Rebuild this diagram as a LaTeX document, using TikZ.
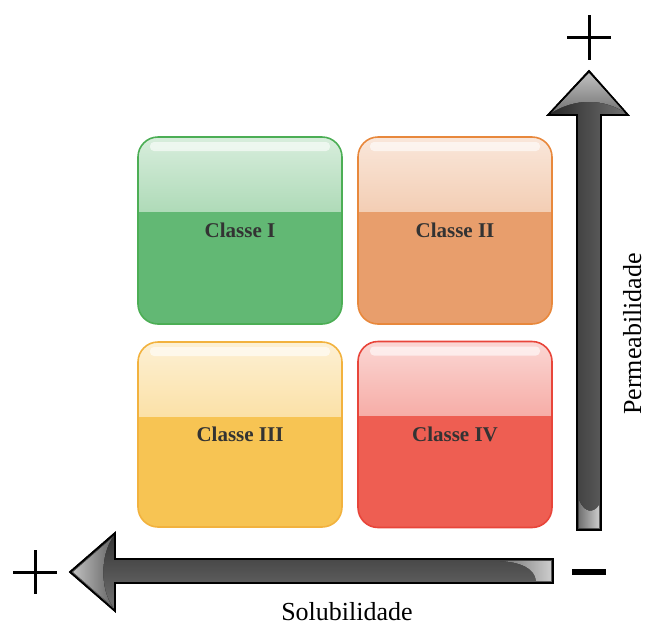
\documentclass[tikz,border=0pt]{standalone}
\usepackage{fontspec}
\setmainfont{Liberation Serif}
\usetikzlibrary{calc}
\definecolor{greenFill}{HTML}{62B874}
\definecolor{greenLine}{HTML}{4CAE55}
\definecolor{orangeFill}{HTML}{E89E6C}
\definecolor{orangeLine}{HTML}{E8883C}
\definecolor{yellowFill}{HTML}{F7C453}
\definecolor{yellowLine}{HTML}{F2B23E}
\definecolor{redFill}{HTML}{EE5E52}
\definecolor{redLine}{HTML}{E8453A}
\definecolor{labelGray}{HTML}{333333}
\begin{document}
\begin{tikzpicture}[x=1pt,y=-1pt,
    classBox/.style 2 args={draw=#1, fill=#2, line width=1.6pt,
      rounded corners=20pt, inner sep=0pt, text=labelGray,
      font=\fontsize{21}{24}\selectfont\bfseries,
      path picture={
        \fill[sharp corners, top color=#2!25!white, bottom color=#2!90!white]
          (path picture bounding box.north west) rectangle
          ($(path picture bounding box.north east)!0.4!(path picture bounding box.south east)$);
        \fill[white, opacity=0.6, rounded corners=4pt]
          ($(path picture bounding box.north west)+(12,5)$) rectangle
          ($(path picture bounding box.north east)+(-12,14)$);
      }},
    arrowBody/.style={draw=black, line width=1.6pt, line join=miter},
    signLine/.style={draw=black, line width=3pt},
    axisText/.style={font=\fontsize{26}{30}\selectfont, inner sep=0pt}]
  \useasboundingbox (0,0) rectangle (646,625);
  % the four classes
  \node [classBox={greenLine}{greenFill}, minimum width=204pt, minimum height=187pt]
    (classI) at (240,230.5) {Classe I};
  \node [classBox={orangeLine}{orangeFill}, minimum width=194pt, minimum height=187pt]
    (classII) at (455,230.5) {Classe II};
  \node [classBox={yellowLine}{yellowFill}, minimum width=204pt, minimum height=185pt]
    (classIII) at (240,434.5) {Classe III};
  \node [classBox={redLine}{redFill}, minimum width=194pt, minimum height=186pt]
    (classIV) at (455,434.5) {Classe IV};
  % vertical arrow
  \path [arrowBody, left color=black!85, right color=black!55]
    (577,530) -- (577,115) -- (548,115) -- (589,71) -- (628,115)
    -- (601,115) -- (601,530) -- cycle;
  \fill [top color=black!25, bottom color=black!55]
    (589,73) -- (551,113) .. controls (575,98) and (603,98) .. (626,113) -- cycle;
  \fill [left color=black!55, right color=white!80!black]
    (579,528) -- (579,500) .. controls (585,515) and (595,512) .. (599,505) -- (599,528) -- cycle;
  \draw [black, line width=1.6pt, line join=miter]
    (577,530) -- (577,115) -- (548,115) -- (589,71) -- (628,115)
    -- (601,115) -- (601,530) -- cycle;
  % horizontal arrow
  \path [arrowBody, top color=black!80, bottom color=black!55]
    (553,559) -- (115,559) -- (115,533) -- (70,572) -- (115,611)
    -- (115,583) -- (553,583) -- cycle;
  \fill [left color=black!25, right color=black!60]
    (73,572) -- (113,537) .. controls (100,555) and (100,590) .. (113,607) -- cycle;
  \fill [left color=black!55, right color=white!80!black]
    (500,561) .. controls (520,562) and (535,568) .. (536,581) -- (551,581) -- (551,561) -- cycle;
  \draw [black, line width=1.6pt, line join=miter]
    (553,559) -- (115,559) -- (115,533) -- (70,572) -- (115,611)
    -- (115,583) -- (553,583) -- cycle;
  % signs
  \draw [signLine] (567,37) -- (611,37) (589,15) -- (589,60);
  \draw [signLine] (13,572) -- (57,572) (35,550) -- (35,594);
  \draw [draw=black, line width=6pt] (572,572) -- (606,572);
  % axis labels
  \node [axisText, anchor=base] (solub) at (347,620) {Solubilidade};
  \node [axisText, rotate=90, anchor=base] (perm) at (641,334) {Permeabilidade};
\end{tikzpicture}
\end{document}
